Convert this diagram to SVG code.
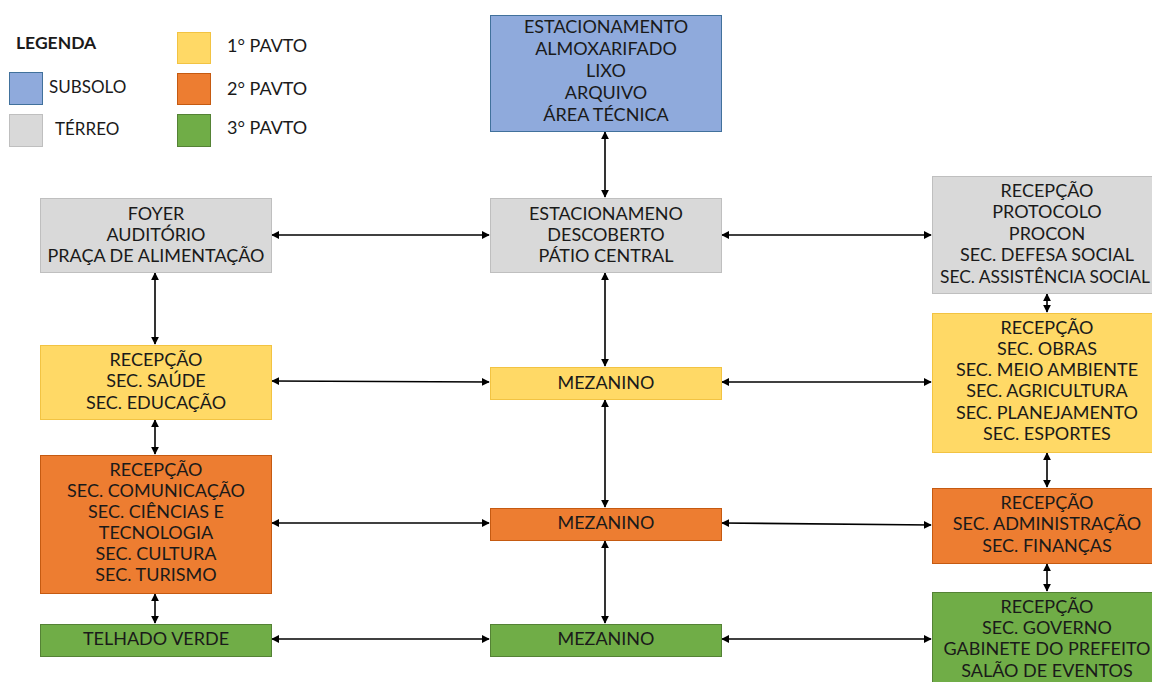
<svg xmlns="http://www.w3.org/2000/svg" width="1152" height="682" viewBox="0 0 1152 682">
  <defs>
    <marker id="ah" viewBox="0 0 10 10" refX="9" refY="5" markerWidth="5" markerHeight="5" orient="auto-start-reverse" markerUnits="strokeWidth">
      <path d="M0,0 L10,5 L0,10 z" fill="#000"/>
    </marker>
    <style>
      text { font-family: Lato, "Open Sans", "Liberation Sans", sans-serif; font-size: 18px; fill: #1a1a1a; text-anchor: middle; dominant-baseline: central; }
      .leg { text-anchor: start; font-size: 17px; }
      .sub { fill: #8faadc; stroke: #41719c; stroke-width: 1; }
      .ter { fill: #d9d9d9; stroke: #bfbfbf; stroke-width: 1; }
      .p1 { fill: #ffd966; stroke: #f2c342; stroke-width: 1; }
      .p2 { fill: #ed7d31; stroke: #c55a11; stroke-width: 1; }
      .p3 { fill: #70ad47; stroke: #548235; stroke-width: 1; }
      .conn line { stroke: #000; stroke-width: 1.6; marker-start: url(#ah); marker-end: url(#ah); }
    </style>
  </defs>
  <rect width="1152" height="682" fill="#fff"/>

  <!-- legend -->
  <g id="legend">
    <text class="leg" x="16" y="42" style="font-weight:bold;font-size:17.5px">LEGENDA</text>
    <rect class="sub" x="9.5" y="72.5" width="33" height="32"/>
    <text class="leg" x="49" y="86">SUBSOLO</text>
    <rect class="ter" x="9.5" y="114.5" width="33" height="32"/>
    <text class="leg" x="55" y="128">TÉRREO</text>
    <rect class="p1" x="177.5" y="32.5" width="33" height="31"/>
    <text class="leg" x="227" y="45" style="font-size:18px">1° PAVTO</text>
    <rect class="p2" x="177.5" y="73.5" width="33" height="31"/>
    <text class="leg" x="227" y="88" style="font-size:18px">2° PAVTO</text>
    <rect class="p3" x="177.5" y="114.5" width="33" height="32"/>
    <text class="leg" x="227" y="127" style="font-size:18px">3° PAVTO</text>
  </g>

  <!-- connectors -->
  <g id="connectors" class="conn">
    <line x1="605" y1="132" x2="605" y2="197"/>
    <line x1="605" y1="273" x2="605" y2="366"/>
    <line x1="605" y1="400" x2="605" y2="507"/>
    <line x1="605" y1="541" x2="605" y2="623"/>
    <line x1="155" y1="273" x2="155" y2="344"/>
    <line x1="155" y1="420" x2="155" y2="454"/>
    <line x1="155" y1="594" x2="155" y2="623"/>
    <line x1="1047" y1="294" x2="1047" y2="312"/>
    <line x1="1047" y1="453" x2="1047" y2="487"/>
    <line x1="1047" y1="564" x2="1047" y2="591"/>
    <line x1="272" y1="235" x2="489" y2="235"/>
    <line x1="722" y1="235" x2="931" y2="235"/>
    <line x1="272" y1="381" x2="489" y2="382"/>
    <line x1="722" y1="382" x2="931" y2="382"/>
    <line x1="272" y1="523" x2="489" y2="523"/>
    <line x1="722" y1="523" x2="931" y2="525"/>
    <line x1="272" y1="639" x2="489" y2="639"/>
    <line x1="722" y1="639" x2="931" y2="639"/>
  </g>

  <g id="subsolo">
    <rect class="sub" x="490.5" y="15.5" width="231" height="116"/>
    <text x="606" y="26">ESTACIONAMENTO</text>
    <text x="606" y="48">ALMOXARIFADO</text>
    <text x="606" y="70">LIXO</text>
    <text x="606" y="92">ARQUIVO</text>
    <text x="606" y="114">ÁREA TÉCNICA</text>
  </g>

  <g id="terreo-centro">
    <rect class="ter" x="490.5" y="198.5" width="231" height="74"/>
    <text x="606" y="213">ESTACIONAMENO</text>
    <text x="606" y="234">DESCOBERTO</text>
    <text x="606" y="255">PÁTIO CENTRAL</text>
  </g>

  <g id="terreo-esq">
    <rect class="ter" x="40.5" y="198.5" width="231" height="74"/>
    <text x="156" y="213">FOYER</text>
    <text x="156" y="234">AUDITÓRIO</text>
    <text x="156" y="255">PRAÇA DE ALIMENTAÇÃO</text>
  </g>

  <g id="terreo-dir">
    <rect class="ter" x="932.5" y="176.5" width="222" height="117"/>
    <text x="1047" y="190">RECEPÇÃO</text>
    <text x="1047" y="211">PROTOCOLO</text>
    <text x="1047" y="233">PROCON</text>
    <text x="1047" y="254">SEC. DEFESA SOCIAL</text>
    <text x="1045" y="276" style="font-size:17.4px">SEC. ASSISTÊNCIA SOCIAL</text>
  </g>

  <g id="pavto1-esq">
    <rect class="p1" x="40.5" y="345.5" width="231" height="74"/>
    <text x="156" y="359">RECEPÇÃO</text>
    <text x="156" y="380">SEC. SAÚDE</text>
    <text x="156" y="402">SEC. EDUCAÇÃO</text>
  </g>

  <g id="pavto1-centro">
    <rect class="p1" x="490.5" y="367.5" width="231" height="32"/>
    <text x="606" y="382">MEZANINO</text>
  </g>

  <g id="pavto1-dir">
    <rect class="p1" x="932.5" y="313.5" width="222" height="139"/>
    <text x="1047" y="327">RECEPÇÃO</text>
    <text x="1047" y="348">SEC. OBRAS</text>
    <text x="1047" y="369">SEC. MEIO AMBIENTE</text>
    <text x="1047" y="390">SEC. AGRICULTURA</text>
    <text x="1047" y="412">SEC. PLANEJAMENTO</text>
    <text x="1047" y="433">SEC. ESPORTES</text>
  </g>

  <g id="pavto2-esq">
    <rect class="p2" x="40.5" y="455.5" width="231" height="138"/>
    <text x="156" y="469">RECEPÇÃO</text>
    <text x="156" y="490">SEC. COMUNICAÇÃO</text>
    <text x="156" y="511">SEC. CIÊNCIAS E</text>
    <text x="156" y="532">TECNOLOGIA</text>
    <text x="156" y="553">SEC. CULTURA</text>
    <text x="156" y="574">SEC. TURISMO</text>
  </g>

  <g id="pavto2-centro">
    <rect class="p2" x="490.5" y="508.5" width="231" height="32"/>
    <text x="606" y="522">MEZANINO</text>
  </g>

  <g id="pavto2-dir">
    <rect class="p2" x="932.5" y="488.5" width="222" height="75"/>
    <text x="1047" y="502">RECEPÇÃO</text>
    <text x="1047" y="523">SEC. ADMINISTRAÇÃO</text>
    <text x="1047" y="545">SEC. FINANÇAS</text>
  </g>

  <g id="pavto3-esq">
    <rect class="p3" x="40.5" y="624.5" width="231" height="32"/>
    <text x="156" y="638">TELHADO VERDE</text>
  </g>

  <g id="pavto3-centro">
    <rect class="p3" x="490.5" y="624.5" width="231" height="32"/>
    <text x="606" y="638">MEZANINO</text>
  </g>

  <g id="pavto3-dir">
    <rect class="p3" x="932.5" y="592.5" width="222" height="92"/>
    <text x="1047" y="606">RECEPÇÃO</text>
    <text x="1047" y="627">SEC. GOVERNO</text>
    <text x="1047" y="648">GABINETE DO PREFEITO</text>
    <text x="1047" y="670">SALÃO DE EVENTOS</text>
  </g>
</svg>
